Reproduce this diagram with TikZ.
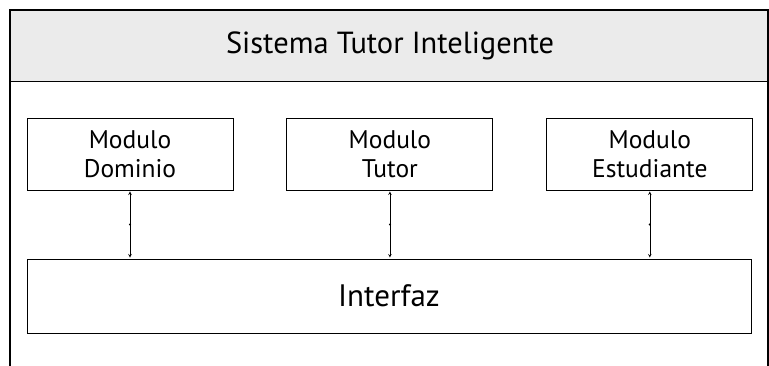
\documentclass[tikz,border=0pt]{standalone}
\usepackage{fontspec}
\setmainfont{PT Sans}
\usetikzlibrary{positioning}

\begin{document}
\begin{tikzpicture}[x=1pt, y=-1pt, >=stealth,
    modulo/.style={draw, line width=0.9pt, minimum width=206pt, minimum height=72pt,
      align=center, font=\fontsize{25.5}{29}\selectfont, inner sep=0pt},
    link/.style={<->, line width=0.6pt, shorten <=1pt, shorten >=1pt},
    dot/.style={circle, fill, inner sep=0.8pt}]
  \useasboundingbox (0,0) rectangle (769,365);
  % marco exterior y cabecera
  \fill[black!8] (10,10) rectangle (768,81);
  \draw[line width=1pt] (10,81) -- (768,81);
  \draw[line width=2pt] (10,366) -- (10,10) -- (768,10) -- (768,366);
  \node (sti) at (390,46) {\fontsize{30.5}{34}\selectfont Sistema Tutor Inteligente};
  % modulos
  \node[modulo] (dom) at (130,154) {Modulo\\Dominio};
  \node[modulo, right=53pt of dom] (tut) {Modulo\\Tutor};
  \node[modulo, right=53pt of tut] (est) {Modulo\\Estudiante};
  \node[modulo, minimum width=724pt, minimum height=74pt, font=\fontsize{31}{34}\selectfont]
    (int) at (389,296) {Interfaz};
  % conexiones
  \foreach \m in {dom,tut,est}
    \draw[link] (\m.south) -- node[dot] {} (\m.south |- int.north);
\end{tikzpicture}
\end{document}
